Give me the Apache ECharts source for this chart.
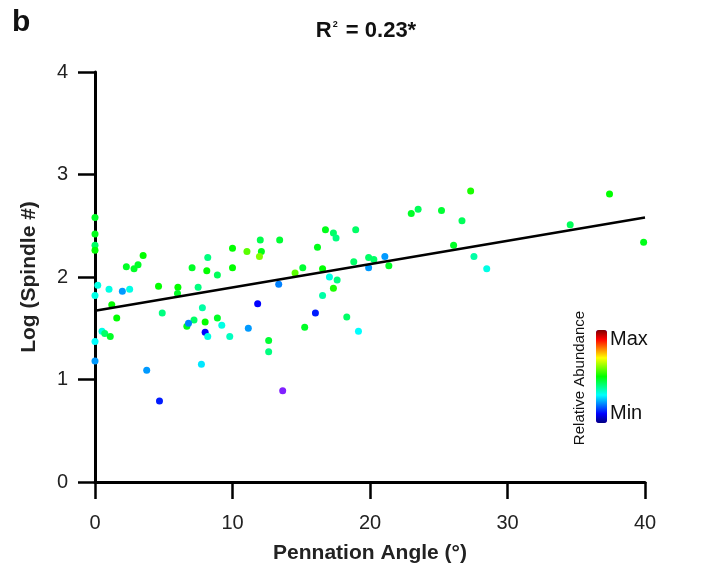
<!DOCTYPE html>
<html>
<head>
<meta charset="utf-8">
<script src="https://cdn.jsdelivr.net/npm/echarts@6/dist/echarts.min.js"></script>
<style>
  html, body { margin: 0; padding: 0; background: #fff; }
  #main { width: 707px; height: 576px; }
</style>
</head>
<body>
<div id="main"></div>
<script>
// pennation angle (deg)
const angle = [
  0, 0, 0, 0, 0.2, 0, 1.02, 1.99, 2.52, 2.28, 2.84, 3.13, 3.5, 1.22, 1.58, 0.51, 0.71, 1.11, 0, 0,
  3.76, 4.69, 4.62, 4.89, 6.03, 6.0, 7.06, 8.13, 8.9, 8.2, 7.5, 7.81, 7.2, 6.68, 6.8, 8.01, 8.9, 8.01, 8.2, 9.22,
  7.74, 9.8, 10.0, 11.05, 12.02, 12.1, 11.96, 13.43, 10.0, 13.36, 11.83, 11.15, 12.63, 12.63, 13.65,
  16.76, 17.34, 17.53, 18.96, 16.18, 15.11, 14.55, 16.55, 17.05, 17.61, 17.34, 16.55, 16.03, 15.25, 18.31,
  19.16, 18.82, 19.9, 19.9, 20.28, 21.08, 21.37, 23.0, 23.5, 25.2, 27.32, 26.69, 26.08, 27.56, 28.49,
  34.56, 37.42, 39.9
]
// log(spindle #)
const logSpindle = [
  2.58, 2.42, 2.31, 2.26, 1.92, 1.82, 1.88, 1.86, 1.88, 2.10, 2.08, 2.12, 2.21, 1.73, 1.60, 1.47, 1.45, 1.42, 1.37, 1.18,
  1.09, 0.79, 1.91, 1.65, 1.90, 1.84, 2.09, 2.06, 2.02, 2.19, 1.90, 1.70, 1.58, 1.52, 1.55, 1.56, 1.60, 1.46, 1.42, 1.53,
  1.15, 1.42, 2.28, 2.25, 2.36, 2.25, 2.20, 2.36, 2.09, 1.93, 1.74, 1.50, 1.38, 1.27, 0.89,
  2.46, 2.43, 2.38, 2.46, 2.29, 2.09, 2.04, 2.08, 2.00, 1.97, 1.89, 1.82, 1.65, 1.51, 1.61,
  1.47, 2.15, 2.19, 2.09, 2.17, 2.20, 2.11, 2.62, 2.66, 2.65, 2.84, 2.55, 2.31, 2.20, 2.08,
  2.51, 2.81, 2.34
]
// relative abundance (0 = min, 1 = max), below 0 = off scale
const abundance = [
  0.47, 0.48, 0.42, 0.5, 0.32, 0.32, 0.32, 0.22, 0.32, 0.47, 0.47, 0.47, 0.5, 0.5, 0.5, 0.32, 0.42, 0.47, 0.3, 0.22,
  0.22, 0.12, 0.5, 0.4, 0.5, 0.47, 0.47, 0.5, 0.43, 0.4, 0.4, 0.37, 0.42, 0.48, 0.2, 0.5, 0.47, 0.1, 0.32, 0.32,
  0.28, 0.35, 0.5, 0.57, 0.44, 0.48, 0.6, 0.46, 0.5, 0.2, 0.1, 0.22, 0.46, 0.4, -0.1,
  0.48, 0.42, 0.4, 0.42, 0.48, 0.46, 0.57, 0.5, 0.32, 0.4, 0.52, 0.37, 0.12, 0.47, 0.42,
  0.3, 0.42, 0.42, 0.22, 0.42, 0.22, 0.47, 0.47, 0.43, 0.46, 0.52, 0.43, 0.47, 0.37, 0.32,
  0.43, 0.5, 0.48
]
// regression line ends
const fitX = [0, 40]
const fitY = [1.67, 2.58]

const xTicks = [0, 10, 20, 30, 40]
const yTicks = [0, 1, 2, 3, 4]

const jet = ['#00007f', '#0000ff', '#0080ff', '#00ffff', '#00ff80', '#00ff00',
  '#80ff00', '#ffff00', '#ff8000', '#ff0000', '#800000']

const points = angle.map((a, i) => [a, logSpindle[i], abundance[i]])
const fitLine = fitX.map((x, i) => [x, fitY[i]])

const FONT = '"Liberation Sans", Arial, sans-serif'

const axisCommon = {
  axisLine: { show: true, onZero: false, lineStyle: { color: '#000', width: 3 } },
  axisTick: { show: true, length: 17, lineStyle: { color: '#000', width: 2.5 } },
  splitLine: { show: false },
  nameTextStyle: { fontFamily: FONT, fontWeight: 'bold', fontSize: 21, color: '#222' }
}

var chart = echarts.init(document.getElementById('main'))
chart.setOption({
  animation: false,
  title: {
    text: '{a|R}{s|2}{a| = 0.23*}',
    left: 361,
    top: 15,
    textAlign: 'center',
    textStyle: {
      rich: {
        a: { fontFamily: FONT, fontWeight: 'bold', fontSize: 22, color: '#111' },
        s: { fontFamily: FONT, fontWeight: 'bold', fontSize: 9, color: '#111', verticalAlign: 'top', padding: [0, 2, 12, 1] }
      }
    }
  },
  grid: { left: 95, right: 62, top: 72, bottom: 94 },
  xAxis: Object.assign({}, axisCommon, {
    type: 'value',
    min: 0, max: 40, interval: 10,
    name: 'Pennation Angle (°)',
    nameLocation: 'middle',
    nameGap: 61,
    axisLabel: {
      margin: 31, fontFamily: FONT, fontSize: 20, color: '#222',
      formatter: v => xTicks.includes(v) ? String(v) : ''
    }
  }),
  yAxis: Object.assign({}, axisCommon, {
    type: 'value',
    min: 0, max: 4, interval: 1,
    name: 'Log (Spindle #)',
    nameLocation: 'middle',
    nameGap: 55,
    axisLabel: {
      margin: 27, fontFamily: FONT, fontSize: 20, color: '#222',
      formatter: v => yTicks.includes(v) ? String(v) : ''
    }
  }),
  visualMap: {
    type: 'continuous',
    seriesIndex: 0,
    dimension: 2,
    min: -0.001,
    max: 1,
    range: [0, 1],
    calculable: false,
    hoverLink: false,
    orient: 'vertical',
    left: 581,
    top: 315,
    itemWidth: 11,
    itemHeight: 93,
    text: null,
    inRange: { color: jet },
    outOfRange: { color: '#8020ff' }
  },
  graphic: [
    { type: 'text', left: 12, top: 8, style: { text: 'b', fontFamily: FONT, fontWeight: 'bold', fontSize: 30, fill: '#111' } },
    { type: 'text', left: 610, top: 329, style: { text: 'Max', fontFamily: FONT, fontSize: 20, fill: '#111' } },
    { type: 'text', left: 610, top: 403, style: { text: 'Min', fontFamily: FONT, fontSize: 20, fill: '#111' } },
    {
      type: 'text', x: 580, y: 378, rotation: Math.PI / 2,
      style: { text: 'Relative Abundance', fontFamily: FONT, fontSize: 15, fill: '#111', align: 'center', verticalAlign: 'middle' }
    }
  ],
  series: [
    {
      type: 'scatter',
      data: points,
      symbolSize: 7,
      itemStyle: { opacity: 1 },
      z: 2
    },
    {
      type: 'line',
      data: fitLine,
      symbol: 'none',
      lineStyle: { color: '#000', width: 2.5 },
      z: 3
    }
  ]
})
</script>
</body>
</html>
